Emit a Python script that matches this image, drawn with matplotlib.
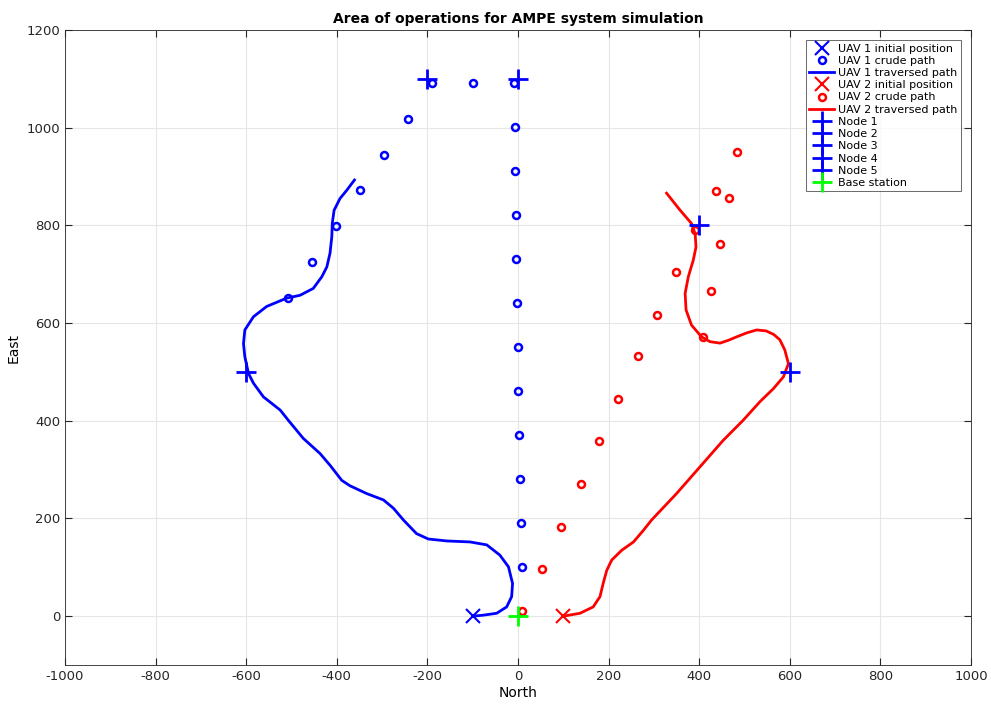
import numpy as np
import matplotlib
matplotlib.use("Agg")
import matplotlib.pyplot as plt

plt.rcParams["axes.unicode_minus"] = False

# UAV 1 crude path (north, east)
uav1_crude_n = [9, 7, 4, 2, 0, 0, -2, -4, -4, -6, -6, -9, -99, -190, -243, -296, -349, -402, -455, -508]
uav1_crude_e = [100, 190, 280, 370, 461, 551, 641, 731, 821, 911, 1001, 1091, 1091, 1091, 1018, 944, 872, 799, 725, 651]

# UAV 2 crude path
uav2_crude_n = [9, 53, 95, 139, 179, 221, 265, 307, 349, 391, 437, 483, 466, 447, 427, 409]
uav2_crude_e = [10, 96, 182, 270, 358, 444, 532, 616, 704, 790, 871, 950, 857, 762, 666, 572]

# UAV 1 traversed path
uav1_path_n = [-100, -77, -47, -25, -14, -12, -21, -40, -69, -106, -157, -198, -224, -253, -275,
               -297, -334, -371, -389, -415, -437, -474, -507, -525, -562, -584, -595, -603, -606,
               -603, -584, -555, -511, -481, -452, -433, -422, -415, -411, -410, -406, -393, -378,
               -361]
uav1_path_e = [0, 2, 6, 19, 40, 67, 101, 125, 146, 152, 154, 158, 169, 197, 221,
               238, 251, 267, 278, 309, 333, 364, 401, 422, 449, 477, 497, 531, 558,
               586, 613, 634, 651, 657, 671, 695, 715, 743, 777, 804, 831, 855, 872,
               893]

# UAV 2 traversed path
uav2_path_n = [100, 137, 166, 181, 188, 196, 207, 229, 255, 277, 295, 350, 402, 453, 497, 534,
               564, 586, 597, 589, 578, 564, 548, 527, 505, 483, 465, 446, 424, 405, 383, 371,
               369, 376, 387, 393, 391, 383, 358, 328]
uav2_path_e = [0, 6, 19, 40, 67, 94, 115, 135, 152, 176, 197, 251, 306, 360, 401, 439,
               466, 490, 517, 545, 566, 577, 584, 586, 580, 572, 565, 559, 562, 572, 596, 627,
               661, 695, 729, 756, 783, 804, 831, 866]

uav1_init = (-100, 0)
uav2_init = (100, 0)
nodes = [(-200, 1100), (0, 1100), (-600, 500), (400, 800), (600, 500)]
base = (0, 0)

fig = plt.figure(figsize=(9.91, 7.05), dpi=100)
ax = fig.add_axes([0.0656, 0.0567, 0.9142, 0.9007])

ax.plot(*uav1_init, "x", color="blue", ms=10, mew=1.5, ls="none", label="UAV 1 initial position")
ax.plot(uav1_crude_n, uav1_crude_e, "o", color="blue", mfc="none", ms=5, mew=1.8, ls="none",
        label="UAV 1 crude path")
ax.plot(uav1_path_n, uav1_path_e, "-", color="blue", lw=2, solid_joinstyle="round",
        label="UAV 1 traversed path")
ax.plot(*uav2_init, "x", color="red", ms=10, mew=1.5, ls="none", label="UAV 2 initial position")
ax.plot(uav2_crude_n, uav2_crude_e, "o", color="red", mfc="none", ms=5, mew=1.8, ls="none",
        label="UAV 2 crude path")
ax.plot(uav2_path_n, uav2_path_e, "-", color="red", lw=2, solid_joinstyle="round",
        label="UAV 2 traversed path")
for i, (n, e) in enumerate(nodes):
    ax.plot(n, e, "+", color="blue", ms=14, mew=2, ls="none", label=f"Node {i + 1}")
ax.plot(*base, "+", color="#00ff00", ms=14, mew=2, ls="none", label="Base station")

ax.set_xlim(-1000, 1000)
ax.set_ylim(-100, 1200)
ax.set_xticks(np.arange(-1000, 1001, 200))
ax.set_yticks(np.arange(0, 1201, 200))
ax.grid(True, color="#e6e6e6", lw=0.8)
ax.set_axisbelow(True)
ax.tick_params(direction="in", labelsize=9.5, colors="#262626", top=True, right=True, length=5)
for s in ax.spines.values():
    s.set_color("#262626")
    s.set_linewidth(0.6)

ax.set_title("Area of operations for AMPE system simulation", fontsize=10, fontweight="bold", pad=5)
ax.set_xlabel("North", fontsize=10, labelpad=2)
ax.set_ylabel("East", fontsize=10, labelpad=4)

leg = ax.legend(loc="upper right", bbox_to_anchor=(0.989, 0.984), fontsize=8, frameon=True,
                fancybox=False, edgecolor="#262626", handlelength=2.2, handletextpad=0.4,
                labelspacing=0.2, borderpad=0.3, borderaxespad=0)
leg.get_frame().set_linewidth(0.6)

fig.savefig("out.png", dpi=100)
